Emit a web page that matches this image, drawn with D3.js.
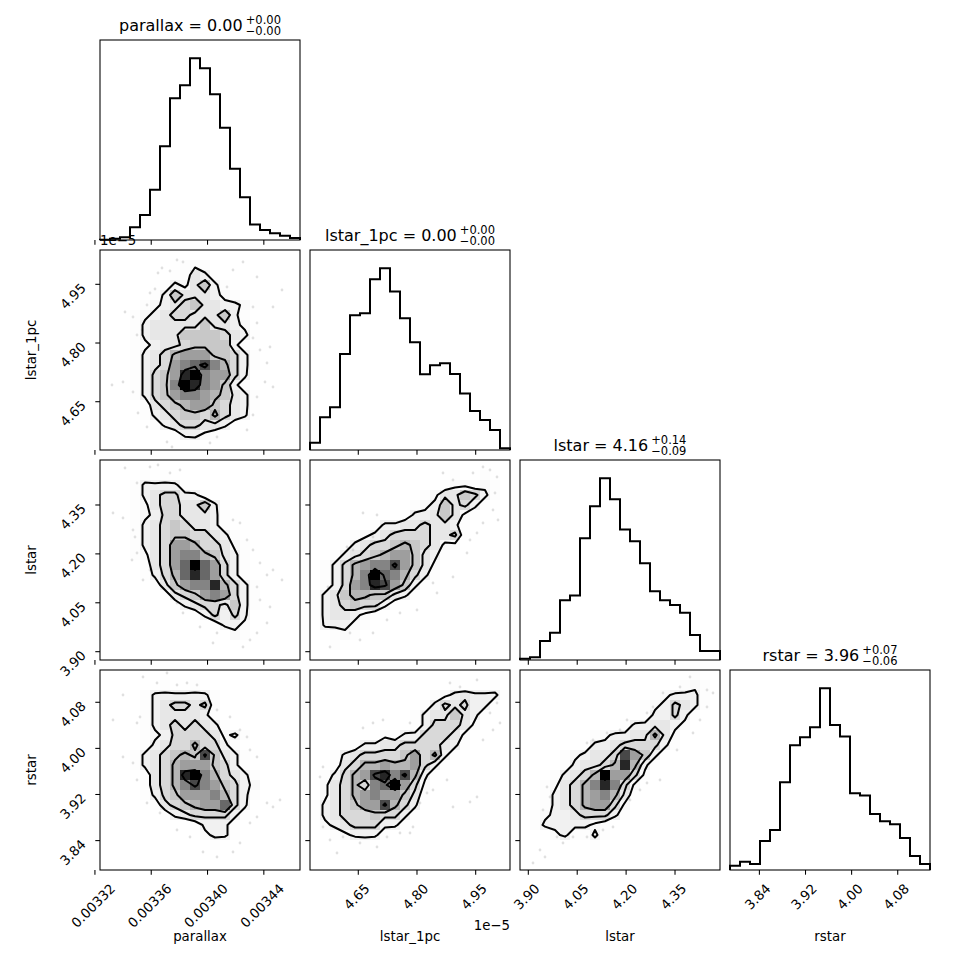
<!DOCTYPE html>
<html>
<head>
<meta charset="utf-8">
<script src="https://cdn.jsdelivr.net/npm/d3@7"></script>
<style>
  body { margin: 0; background: #fff; }
  text { font-family: "DejaVu Sans", sans-serif; fill: #000; }
</style>
</head>
<body>
<svg id="chart" width="970" height="970"></svg>
<script>
// parameter names, axis ranges (lstar_1pc in units of 1e-5), ticks
const labels = ["parallax", "lstar_1pc", "lstar", "rstar"];
const ranges = [[0.0033236, 0.0034657], [4.5266, 5.0377], [3.8745, 4.488], [3.789, 4.136]];
const ticks = [
  [0.00332, 0.00336, 0.00340, 0.00344],
  [4.65, 4.80, 4.95],
  [3.90, 4.05, 4.20, 4.35],
  [3.84, 3.92, 4.00, 4.08]
];
const tickFormats = [".5f", ".2f", ".2f", ".2f"];
const offsetTexts = [null, "1e\u22125", null, null];

// titles: median with +/- errors
const titleValues = ["0.00", "0.00", "4.16", "3.96"];
const titlePlus = ["+0.00", "+0.00", "+0.14", "+0.07"];
const titleMinus = ["\u22120.00", "\u22120.00", "\u22120.09", "\u22120.06"];

// 1d histograms, 20 bins over each range
const parallaxHist = [1, 4, 8, 38, 75, 150, 280, 423, 462, 543, 513, 435, 335, 213, 128, 46, 30, 20, 13, 6];
const lstar1pcHist = [22, 98, 128, 288, 404, 410, 512, 545, 475, 395, 323, 227, 254, 260, 228, 169, 117, 90, 60, 5];
const lstarHist = [4, 8, 57, 82, 179, 193, 365, 461, 545, 482, 391, 356, 290, 206, 179, 165, 142, 75, 27, 27];
const rstarHist = [13, 25, 18, 87, 120, 263, 374, 398, 428, 545, 435, 400, 230, 223, 168, 146, 137, 96, 42, 18];
const hists = [parallaxHist, lstar1pcHist, lstarHist, rstarHist];

// 2d histograms (20x20, top row = high y), counts in base 36
const lstar1pcVsParallax = [
  "00000000000000000000",
  "00000000121000000000",
  "00000001143100000000",
  "00000013246310000000",
  "00000136444321000000",
  "00001234564433210000",
  "00012345544463100000",
  "00013444446443200000",
  "00013444666654310000",
  "00012344566663100000",
  "00013457888665310000",
  "000134589ab975310000",
  "00013568cd9885300000",
  "00013569dc9863100000",
  "00013568998764310000",
  "00001456788654310000",
  "00001345665754300000",
  "00000134554431000000",
  "00000001332100000000",
  "00000000010000000000"
];
const lstarVsParallax = [
  "00000000000000000000",
  "00001010000000000000",
  "00013333100000000000",
  "00013455331000000000",
  "00012455446300000000",
  "00012355444310000000",
  "00013456544310000000",
  "00013456655431000000",
  "00013458875542100000",
  "00012458997643100000",
  "00001458ada853100000",
  "00001357aca853100000",
  "00000146899c75310000",
  "00000014568985310000",
  "00000001345546310000",
  "00000000013535300000",
  "00000000000133200000",
  "00000000000002100000",
  "00000000000000000000",
  "00000000000000000000"
];
const lstarVsLstar1pc = [
  "00000000000000000000",
  "00000000000000100100",
  "00000000000001221210",
  "00000000000124465310",
  "00000000001236453100",
  "00000000013346421000",
  "00000013344544310000",
  "00001234555544510000",
  "00013455676542200000",
  "00134567886431000000",
  "01357899b86420000000",
  "013579da975310000000",
  "013589cb863100000000",
  "13467766431000000000",
  "13456553100000000000",
  "13443210000000000000",
  "03332100000000000000",
  "00121000000000000000",
  "00100000000000000000",
  "00000000000000000000"
];
const rstarVsParallax = [
  "00000000000000000000",
  "00000010010000000000",
  "00001333333100000000",
  "00001345545100000000",
  "00001344443100000000",
  "00001345454310000000",
  "00001235555423100000",
  "00001345575531000000",
  "0001345676b643100000",
  "00013457888653100000",
  "00001457cd9754310000",
  "000014579b9865320000",
  "00001356888975310000",
  "000001456788a5300000",
  "00000013455553100000",
  "00000000013331000000",
  "00000000002331000000",
  "00000000000100000000",
  "00000000000000000000",
  "00000000000000000000"
];
const rstarVsLstar1pc = [
  "00000000000000000000",
  "00000000000000100010",
  "00000000000012343331",
  "00000000000135453310",
  "00000000001344643100",
  "00000000001355542000",
  "00000002133555420000",
  "00001334455554310000",
  "00134555568573100000",
  "00145778778531000000",
  "013578bc9b7310000000",
  "0245759ad85200000000",
  "02457898864100000000",
  "1345688b753000000000",
  "13455565531000000000",
  "02345553310000000000",
  "00123331000000000000",
  "00000100000000000000",
  "00000000000000000000",
  "00000000000000000000"
];
const rstarVsLstar = [
  "00000000000000000100",
  "00000000000000001210",
  "00000000000001233310",
  "00000000000012354310",
  "00000000000013353100",
  "00000000001334432000",
  "00000001233447420000",
  "00000013345555310000",
  "0000123445b863100000",
  "0000134457c731000000",
  "00013457d88520000000",
  "00124579c95200000000",
  "00134578974100000000",
  "00134578852000000000",
  "01233455531000000000",
  "01333332100000000000",
  "00023113100000000000",
  "00000001000000000000",
  "00000000000000000000",
  "00000000000000000000"
];

// outlying samples, in bin units [x from left, y from top]
const ptsA = [[5.8,2.3],[6.2,1.8],[7,2.1],[7.7,1],[8.3,1.2],[5.5,3.9],[5,4.3],[4.7,5.5],[2.5,6.2],[3.3,6.7],
  [4.2,8],[3.7,8.5],[1.2,13.5],[2.3,13.2],[3.3,14.2],[3.8,16.3],[4.7,17.7],[6.7,19.2],[7.2,19.7],[11,19.3],
  [11.7,18.7],[14.7,18],[15.3,16.5],[15.7,14.7],[17.3,13.7],[16.5,13.2],[16.7,11.3],[16,10],[17,9.7],[15.3,8.8],
  [15.7,7.3],[15.3,5.7],[17.3,5.7],[18.2,4],[13.3,2],[14.3,1.2],[15.7,2.7],[12.7,3.7]];
const ptsB = [[2.5,0.8],[3.7,2.3],[5,0.7],[5.8,0.5],[7,1.3],[8,1],[1.3,5.3],[2.3,5.8],[3.3,7],[3.5,7.7],
  [3.7,9.3],[3.2,10],[5,11],[4.3,12],[14,6.3],[13.3,6],[14.7,8],[15.3,9],[16,10.3],[16.7,11.5],
  [17.3,11],[18.2,12],[15.7,12.7],[16,14],[17,14.7],[16.7,16.3],[15.7,17.3],[15,18],[14.3,18.7],[11.7,17.3],
  [11.3,18.3],[10,16.7],[7.7,14.3],[8.3,15.3]];
const ptsC = [[13.3,1.3],[14.3,2],[16.3,1.3],[17.3,0.7],[18,1],[18.7,1.7],[18.5,3.3],[18.3,5],[18.8,6],[17.3,6.3],
  [16.7,7.3],[16,8],[15.7,9.3],[14.3,11.7],[12.3,12.3],[12.7,13.3],[10.7,15],[9,15.3],[7.7,16],[6.3,17.3],
  [5,18],[4,17.3],[2,18.7],[1.8,12.7],[3.7,8.7],[4.3,9],[5.3,5.3],[6.7,5.5],[6.3,7.7]];
const ptsD = [[2.3,2.5],[4.3,0.7],[5.7,1.3],[6.7,0.3],[7.7,1.5],[8.7,1.3],[9.7,1.5],[11.7,4],[13,4.7],[14,6],
  [14.7,6.7],[15,8],[15.7,8.7],[16.7,13.3],[17.3,13.7],[18,13],[15.7,14.7],[15,15.3],[14,17.3],[13.3,18.2],
  [11.7,18.7],[10.3,18.2],[9,16.7],[7.7,16],[6,14.3],[4.7,13.3],[3.7,11],[3.3,9.3],[2.3,8.7],[1.3,5],
  [3.7,5.3],[4,4.7]];
const ptsE = [[1,10.7],[1.3,9.7],[1.3,15.7],[2,17],[2.7,18.3],[3.3,16.7],[5,17.3],[6.7,17.7],[7.7,16.7],[9,16.3],
  [10,16.3],[10.3,15.7],[11,13.3],[11.7,12.3],[12.3,12],[13.7,11],[14.3,13.7],[16,13.2],[16.7,12.7],[17.3,7],
  [18.3,6],[19,5.3],[18,4.3],[18.7,3.3],[16.7,1],[15,1.7],[14,1.3],[11.3,4.3],[10,5.3],[7.3,5],
  [6.3,5.3],[5.3,5.8]];
const ptsF = [[1.3,19.3],[2,18],[2.5,18.7],[3.7,16.7],[4.3,17.3],[5.3,16.7],[6.7,16.7],[9.3,15.7],[8.3,16],[11,13],
  [12,12],[12.7,11.3],[14,11],[15.7,8],[17.3,6.3],[18,5],[18.7,3.7],[19.3,2.3],[18.7,2],[17,0.7],
  [16,1.7],[14.3,2.3],[13.3,3.7],[12.7,4.3],[10.7,5],[10,6],[8.7,6.3],[7.3,7],[6.7,7.3],[2.7,11.7],
  [3,12.7],[2.3,14]];

// contour levels per panel (outer to inner)
const lvlA = [2.5, 4.5, 6.5, 10.5];
const lvlB = [2.5, 4.5, 6.5, 12.5];
const lvlC = [2.5, 4.5, 6.5, 10.5];
const lvlD = [2.5, 4.5, 6.5, 10.5];
const lvlE = [2.5, 4.5, 6.5, 10.5];
const lvlF = [2.5, 4.5, 6.5, 12.5];
// [row, col, grid, levels, points]
const grids2d = [
  [1, 0, lstar1pcVsParallax, lvlA, ptsA],
  [2, 0, lstarVsParallax, lvlB, ptsB],
  [2, 1, lstarVsLstar1pc, lvlC, ptsC],
  [3, 0, rstarVsParallax, lvlD, ptsD],
  [3, 1, rstarVsLstar1pc, lvlE, ptsE],
  [3, 2, rstarVsLstar, lvlF, ptsF]
];

const svg = d3.select("#chart");
const N = labels.length;
const size = 200, gap = 10, marginLeft = 100, marginTop = 40;
const tickLen = 4.7;
const fontSize = 13.33;

const xs = [], ys = [];
for (let i = 0; i < N; i++) {
  const p0 = marginLeft + i * (size + gap);
  const q0 = marginTop + i * (size + gap);
  xs.push(d3.scaleLinear().domain(ranges[i]).range([p0, p0 + size]));
  ys.push(d3.scaleLinear().domain(ranges[i]).range([q0 + size, q0]));
}
const px = c => marginLeft + c * (size + gap);
const py = r => marginTop + r * (size + gap);

const defs = svg.append("defs");

// 2d panels
grids2d.forEach(([r, c, grid, levels, pts]) => {
  const id = `clip-${r}-${c}`;
  defs.append("clipPath").attr("id", id)
    .append("rect").attr("x", px(c)).attr("y", py(r)).attr("width", size).attr("height", size);
  const g = svg.append("g").attr("clip-path", `url(#${id})`);

  const m = grid[0].length, n = grid.length;
  const H = grid.flatMap(row => row.split("").map(ch => parseInt(ch, 36)));
  const hmax = d3.max(H);
  const [xlo, xhi] = ranges[c], [ylo, yhi] = ranges[r];
  const xe = k => xlo + k * (xhi - xlo) / m;
  const ye = k => yhi - k * (yhi - ylo) / n;

  // data points outside the contours
  g.selectAll("circle.pt").data(pts).join("circle")
    .attr("class", "pt")
    .attr("cx", d => xs[c](xe(d[0])))
    .attr("cy", d => ys[r](ye(d[1])))
    .attr("r", 1.4)
    .attr("fill", "#000")
    .attr("fill-opacity", 0.12);

  // density cells (black -> transparent white)
  g.selectAll("rect.cell")
    .data(H.map((v, i) => ({v, i: i % m, j: Math.floor(i / m)})).filter(d => d.v > 0))
    .join("rect")
    .attr("class", "cell")
    .attr("x", d => xs[c](xe(d.i)))
    .attr("y", d => ys[r](ye(d.j)))
    .attr("width", d => xs[c](xe(d.i + 1)) - xs[c](xe(d.i)) + 0.3)
    .attr("height", d => ys[r](ye(d.j + 1)) - ys[r](ye(d.j)) + 0.3)
    .attr("fill", d => {
      const t = Math.round(255 * (1 - d.v / hmax));
      return `rgb(${t},${t},${t})`;
    })
    .attr("fill-opacity", d => d.v / hmax)
    .attr("shape-rendering", "crispEdges");

  // contours
  const proj = d3.geoTransform({
    point(x, y) { this.stream.point(xs[c](xe(x)), ys[r](ye(y))); }
  });
  const path = d3.geoPath(proj);
  g.selectAll("path.contour")
    .data(d3.contours().size([m, n]).thresholds(levels)(H))
    .join("path")
    .attr("class", "contour")
    .attr("d", path)
    .attr("fill", "none")
    .attr("stroke", "#000")
    .attr("stroke-width", 2)
    .attr("stroke-linejoin", "round");
});

// 1d histograms on the diagonal
hists.forEach((counts, i) => {
  const [lo, hi] = ranges[i];
  const m = counts.length;
  const e = k => lo + k * (hi - lo) / m;
  const y = d3.scaleLinear().domain([0, 1.1 * d3.max(counts)]).range([py(i) + size, py(i)]);
  const pts = [[e(0), 0]];
  counts.forEach((v, k) => { pts.push([e(k), v]); pts.push([e(k + 1), v]); });
  pts.push([e(m), 0]);
  svg.append("path")
    .attr("d", d3.line().x(d => xs[i](d[0])).y(d => y(d[1]))(pts))
    .attr("fill", "none")
    .attr("stroke", "#000")
    .attr("stroke-width", 2);

  // title
  const cx = px(i) + size / 2, t0 = py(i);
  const tg = svg.append("g");
  const main = tg.append("text").attr("y", t0 - 9.5).attr("font-size", 16)
    .text(`${labels[i]} = ${titleValues[i]}`);
  const sup = tg.append("text").attr("y", t0 - 16).attr("font-size", 11.5).text(titlePlus[i]);
  const sub = tg.append("text").attr("y", t0 - 5.5).attr("font-size", 11.5).text(titleMinus[i]);
  const w1 = main.node().getComputedTextLength();
  const w2 = Math.max(sup.node().getComputedTextLength(), sub.node().getComputedTextLength());
  const x0 = cx - (w1 + 3 + w2) / 2;
  main.attr("x", x0);
  sup.attr("x", x0 + w1 + 3);
  sub.attr("x", x0 + w1 + 3);
});

// axes: ticks, labels, frames
for (let r = 0; r < N; r++) {
  for (let c = 0; c <= r; c++) {
    const x0 = px(c), y0 = py(r);
    const g = svg.append("g");
    // x ticks
    ticks[c].forEach(t => {
      const x = xs[c](t);
      g.append("line").attr("x1", x).attr("x2", x)
        .attr("y1", y0 + size).attr("y2", y0 + size + tickLen)
        .attr("stroke", "#000").attr("stroke-width", 1.07);
      if (r === N - 1) {
        const lab = g.append("text").attr("font-size", fontSize)
          .attr("text-anchor", "middle").attr("dominant-baseline", "central")
          .text(d3.format(tickFormats[c])(t));
        const w = lab.node().getComputedTextLength();
        const s = (w + 9.7) * Math.SQRT1_2;
        const lx = x - 1.5, ly = y0 + size + 13 + s / 2;
        lab.attr("x", lx).attr("y", ly).attr("transform", `rotate(-45,${lx},${ly})`);
      }
    });
    // y ticks for 2d panels
    if (c < r) {
      ticks[r].forEach(t => {
        const y = ys[r](t);
        g.append("line").attr("x1", x0 - tickLen).attr("x2", x0)
          .attr("y1", y).attr("y2", y)
          .attr("stroke", "#000").attr("stroke-width", 1.07);
        if (c === 0) {
          const lab = g.append("text").attr("font-size", fontSize)
            .attr("text-anchor", "middle").attr("dominant-baseline", "central")
            .text(d3.format(tickFormats[r])(t));
          const w = lab.node().getComputedTextLength();
          const s = (w + 9.7) * Math.SQRT1_2;
          const lx = x0 - 13 - s / 2, ly = y - 2 + s / 2;
          lab.attr("x", lx).attr("y", ly).attr("transform", `rotate(-45,${lx},${ly})`);
        }
      });
    }
    g.append("rect").attr("x", x0).attr("y", y0).attr("width", size).attr("height", size)
      .attr("fill", "none").attr("stroke", "#000").attr("stroke-width", 1.07);
  }
}

// axis labels and offset texts
for (let i = 0; i < N; i++) {
  svg.append("text").attr("x", px(i) + size / 2).attr("y", py(N - 1) + size + 71)
    .attr("font-size", fontSize).attr("text-anchor", "middle").text(labels[i]);
  if (offsetTexts[i]) {
    svg.append("text").attr("x", px(i) + size).attr("y", py(N - 1) + size + 60)
      .attr("font-size", fontSize).attr("text-anchor", "end").text(offsetTexts[i]);
  }
  if (i > 0) {
    const ly = py(i) + size / 2;
    svg.append("text").attr("x", 36).attr("y", ly)
      .attr("font-size", fontSize).attr("text-anchor", "middle")
      .attr("transform", `rotate(-90,36,${ly})`).text(labels[i]);
    if (offsetTexts[i]) {
      svg.append("text").attr("x", px(0)).attr("y", py(i) - 5)
        .attr("font-size", fontSize).text(offsetTexts[i]);
    }
  }
}
</script>
</body>
</html>
